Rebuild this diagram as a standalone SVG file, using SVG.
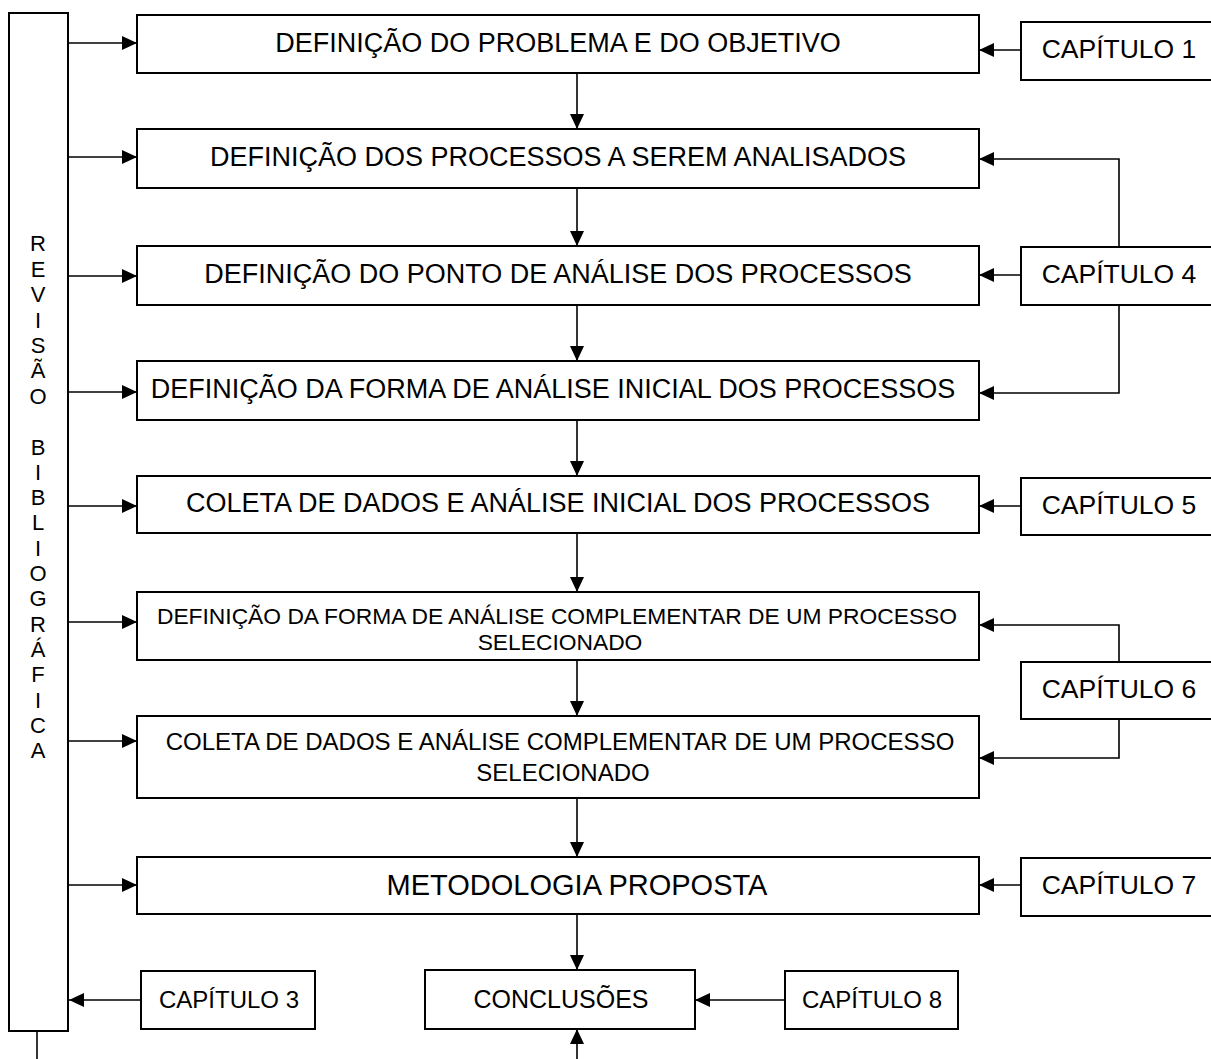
<svg xmlns="http://www.w3.org/2000/svg" width="1211" height="1059" viewBox="0 0 1211 1059">
<style>
.box{fill:#fff;stroke:#000;stroke-width:2}
.t{font-family:"Liberation Sans",Arial,sans-serif;font-size:27px;fill:#000;text-anchor:middle}
.cap{font-size:26.5px}
.v{font-family:"Liberation Sans",Arial,sans-serif;font-size:22px;fill:#000;text-anchor:middle}
.c{fill:none;stroke:#000;stroke-width:1.6}
</style>
<defs>
<marker id="ah" markerUnits="userSpaceOnUse" markerWidth="16" markerHeight="14" refX="15" refY="7" orient="auto">
<path d="M0,0 L15,7 L0,14 Z" fill="#000"/>
</marker>
</defs>
<rect width="1211" height="1059" fill="#fff"/>
<g id="connectors">
<path class="c" d="M68,43 H137" marker-end="url(#ah)"/>
<path class="c" d="M68,157 H137" marker-end="url(#ah)"/>
<path class="c" d="M68,276 H137" marker-end="url(#ah)"/>
<path class="c" d="M68,392 H137" marker-end="url(#ah)"/>
<path class="c" d="M68,506 H137" marker-end="url(#ah)"/>
<path class="c" d="M68,622 H137" marker-end="url(#ah)"/>
<path class="c" d="M68,741 H137" marker-end="url(#ah)"/>
<path class="c" d="M68,885 H137" marker-end="url(#ah)"/>
<path class="c" d="M141,1000 H69" marker-end="url(#ah)"/>
<path class="c" d="M37,1031 V1059"/>
<path class="c" d="M577,73 V129" marker-end="url(#ah)"/>
<path class="c" d="M577,188 V246" marker-end="url(#ah)"/>
<path class="c" d="M577,305 V361" marker-end="url(#ah)"/>
<path class="c" d="M577,420 V476" marker-end="url(#ah)"/>
<path class="c" d="M577,533 V592" marker-end="url(#ah)"/>
<path class="c" d="M577,660 V716" marker-end="url(#ah)"/>
<path class="c" d="M577,798 V857" marker-end="url(#ah)"/>
<path class="c" d="M577,914 V970" marker-end="url(#ah)"/>
<path class="c" d="M577,1059 V1029" marker-end="url(#ah)"/>
<path class="c" d="M1021,50 H979" marker-end="url(#ah)"/>
<path class="c" d="M1119,247 V159 H979" marker-end="url(#ah)"/>
<path class="c" d="M1021,275 H979" marker-end="url(#ah)"/>
<path class="c" d="M1119,305 V393 H979" marker-end="url(#ah)"/>
<path class="c" d="M1021,506 H979" marker-end="url(#ah)"/>
<path class="c" d="M1119,662 V625 H979" marker-end="url(#ah)"/>
<path class="c" d="M1119,719 V758 H979" marker-end="url(#ah)"/>
<path class="c" d="M1021,885 H979" marker-end="url(#ah)"/>
<path class="c" d="M785,1000 H695" marker-end="url(#ah)"/>
</g>
<g id="revisao">
<rect class="box" x="9" y="13" width="59" height="1018"/>
<text class="v" x="38" y="251">R</text>
<text class="v" x="38" y="277">E</text>
<text class="v" x="38" y="302">V</text>
<text class="v" x="38" y="328">I</text>
<text class="v" x="38" y="353">S</text>
<text class="v" x="38" y="378">Ã</text>
<text class="v" x="38" y="404">O</text>
<text class="v" x="38" y="455">B</text>
<text class="v" x="38" y="480">I</text>
<text class="v" x="38" y="505">B</text>
<text class="v" x="38" y="530">L</text>
<text class="v" x="38" y="556">I</text>
<text class="v" x="38" y="581">O</text>
<text class="v" x="38" y="606">G</text>
<text class="v" x="38" y="632">R</text>
<text class="v" x="38" y="657">Á</text>
<text class="v" x="38" y="682">F</text>
<text class="v" x="38" y="708">I</text>
<text class="v" x="38" y="733">C</text>
<text class="v" x="38" y="758">A</text>
</g>
<g id="n1"><rect class="box" x="137" y="15" width="842" height="58"/><text class="t" x="558" y="51.5">DEFINIÇÃO DO PROBLEMA E DO OBJETIVO</text></g>
<g id="n2"><rect class="box" x="137" y="129" width="842" height="59"/><text class="t" x="558" y="166">DEFINIÇÃO DOS PROCESSOS A SEREM ANALISADOS</text></g>
<g id="n3"><rect class="box" x="137" y="246" width="842" height="59"/><text class="t" x="558" y="283">DEFINIÇÃO DO PONTO DE ANÁLISE DOS PROCESSOS</text></g>
<g id="n4"><rect class="box" x="137" y="361" width="842" height="59"/><text class="t" x="553" y="398">DEFINIÇÃO DA FORMA DE ANÁLISE INICIAL DOS PROCESSOS</text></g>
<g id="n5"><rect class="box" x="137" y="476" width="842" height="57"/><text class="t" x="558" y="512">COLETA DE DADOS E ANÁLISE INICIAL DOS PROCESSOS</text></g>
<g id="n6"><rect class="box" x="137" y="592" width="842" height="68"/><text class="t" style="font-size:22.8px" x="557" y="624">DEFINIÇÃO DA FORMA DE ANÁLISE COMPLEMENTAR DE UM PROCESSO</text><text class="t" style="font-size:22.8px" x="560" y="650">SELECIONADO</text></g>
<g id="n7"><rect class="box" x="137" y="716" width="842" height="82"/><text class="t" style="font-size:24px" x="560" y="750">COLETA DE DADOS E ANÁLISE COMPLEMENTAR DE UM PROCESSO</text><text class="t" style="font-size:24px" x="563" y="780.5">SELECIONADO</text></g>
<g id="n8"><rect class="box" x="137" y="857" width="842" height="57"/><text class="t" style="font-size:29px" x="577" y="895">METODOLOGIA PROPOSTA</text></g>
<g id="conclusoes"><rect class="box" x="425" y="970" width="270" height="59"/><text class="t" style="font-size:25px" x="561" y="1008">CONCLUSÕES</text></g>
<g id="cap1"><rect class="box" x="1021" y="22" width="200" height="58"/><text class="t cap" x="1119" y="58">CAPÍTULO 1</text></g>
<g id="cap4"><rect class="box" x="1021" y="247" width="200" height="58"/><text class="t cap" x="1119" y="283">CAPÍTULO 4</text></g>
<g id="cap5"><rect class="box" x="1021" y="478" width="200" height="57"/><text class="t cap" x="1119" y="513.5">CAPÍTULO 5</text></g>
<g id="cap6"><rect class="box" x="1021" y="662" width="200" height="57"/><text class="t cap" x="1119" y="697.5">CAPÍTULO 6</text></g>
<g id="cap7"><rect class="box" x="1021" y="858" width="200" height="58"/><text class="t cap" x="1119" y="894">CAPÍTULO 7</text></g>
<g id="cap8"><rect class="box" x="785" y="971" width="173" height="58"/><text class="t" style="font-size:24px" x="872" y="1008">CAPÍTULO 8</text></g>
<g id="cap3"><rect class="box" x="141" y="971" width="174" height="58"/><text class="t" style="font-size:24px" x="229" y="1008">CAPÍTULO 3</text></g>
</svg>
